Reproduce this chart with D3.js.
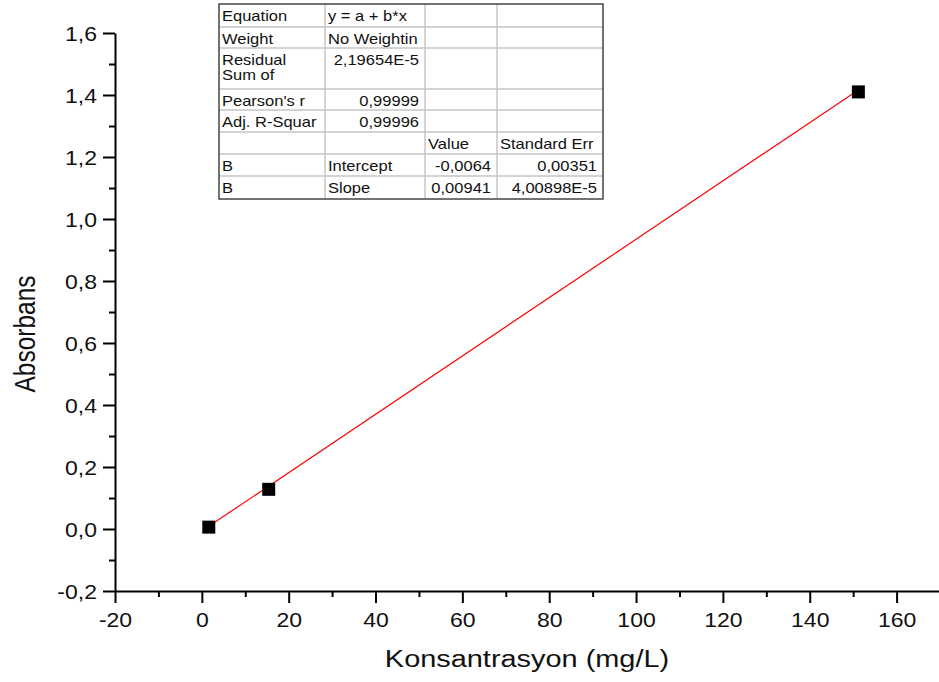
<!DOCTYPE html>
<html>
<head>
<meta charset="utf-8">
<script src="https://cdn.jsdelivr.net/npm/d3@7"></script>
<style>
  body { margin: 0; background: #fff; }
  text { font-family: "Liberation Sans", Arial, sans-serif; fill: #111; }
</style>
</head>
<body>
<div id="chart"></div>
<script>
// data
var concentration = [1.6, 15.4, 151.2];
var absorbance = [0.006, 0.128, 1.41];
var fitIntercept = -0.0064;
var fitSlope = 0.00941;

var xTicks = [-20, 0, 20, 40, 60, 80, 100, 120, 140, 160];
var yTicks = [-0.2, 0.0, 0.2, 0.4, 0.6, 0.8, 1.0, 1.2, 1.4, 1.6];

// fit table
var statNames = ["Equation", "Weight", ["Residual", "Sum of"], "Pearson's r", "Adj. R-Squar"];
var statValues = ["y = a + b*x", "No Weightin", "2,19654E-5", "0,99999", "0,99996"];
var paramHeader = ["Value", "Standard Err"];
var paramGroup = ["B", "B"];
var paramNames = ["Intercept", "Slope"];
var paramValues = ["-0,0064", "0,00941"];
var paramErrors = ["0,00351", "4,00898E-5"];

var width = 939, height = 682;
var stretch = 1.18; // text in the picture is widened

var locale = d3.formatLocale({decimal: ",", thousands: ".", grouping: [3], currency: ["", ""], minus: "-"});

var svg = d3.select("#chart")
	.append("svg")
	.attr("width", width)
	.attr("height", height);

var x = d3.scaleLinear().domain([-20, 170]).range([115, 940]);
var y = d3.scaleLinear().domain([-0.2, 1.6]).range([591, 33]);

// minor ticks
svg.append("g")
	.attr("transform", "translate(0,591)")
	.call(d3.axisBottom(x).tickValues(d3.range(-10, 170, 20)).tickSize(6).tickFormat(""))
	.call(function (g) { g.select(".domain").remove(); });
svg.append("g")
	.attr("transform", "translate(115,0)")
	.call(d3.axisLeft(y).tickValues(d3.range(-0.1, 1.6, 0.2)).tickSize(6).tickFormat(""))
	.call(function (g) { g.select(".domain").remove(); });

// X axis
var xAxis = svg.append("g")
	.attr("class", "x axis")
	.attr("transform", "translate(0,591)")
	.call(d3.axisBottom(x).tickValues(xTicks).tickSize(12).tickSizeOuter(0).tickFormat(locale.format("d")));
xAxis.selectAll("text")
	.attr("y", 0).attr("dy", 0)
	.attr("transform", "translate(0,36) scale(" + stretch + ",1)")
	.style("font-size", "19.5px");

// Y axis
var yAxis = svg.append("g")
	.attr("class", "y axis")
	.attr("transform", "translate(115,0)")
	.call(d3.axisLeft(y).tickValues(yTicks).tickSize(12).tickSizeOuter(0).tickFormat(locale.format(".1f")));
yAxis.selectAll("text")
	.attr("x", 0).attr("dy", "0.36em")
	.attr("transform", "translate(-18,0) scale(" + stretch + ",1)")
	.style("font-size", "19.5px");

svg.selectAll(".tick line").attr("stroke", "#000").attr("stroke-width", 2);
svg.selectAll(".domain").attr("stroke", "#000").attr("stroke-width", 2);
svg.selectAll(".tick text").attr("fill", "#111").attr("font-family", null);

// axis titles
svg.append("text")
	.attr("transform", "translate(527,667) scale(" + stretch + ",1)")
	.attr("text-anchor", "middle")
	.style("font-size", "24.5px")
	.text("Konsantrasyon (mg/L)");
svg.append("text")
	.attr("transform", "translate(35,334) rotate(-90) scale(1," + stretch + ")")
	.attr("text-anchor", "middle")
	.style("font-size", "24.5px")
	.text("Absorbans");

// fitted line
var xr = d3.extent(concentration);
var fitline = d3.line()
	.x(function (d) { return x(d); })
	.y(function (d) { return y(fitIntercept + fitSlope * d); });
svg.append("path")
	.attr("d", fitline(xr))
	.attr("fill", "none")
	.attr("stroke", "#ff0000")
	.attr("stroke-width", 1.2);

// points
svg.selectAll("rect.pt")
	.data(concentration)
	.enter().append("rect")
	.attr("class", "pt")
	.attr("x", function (d) { return x(d) - 6.5; })
	.attr("y", function (d, i) { return y(absorbance[i]) - 6.5; })
	.attr("width", 13)
	.attr("height", 13)
	.attr("fill", "#000");

// table
var cols = [219, 325, 425, 497, 603];
var rows = [4, 27, 48, 89, 110, 132, 154, 176, 199];
var table = svg.append("g");
var defs = svg.append("defs");

table.append("rect")
	.attr("x", cols[0]).attr("y", rows[0])
	.attr("width", cols[4] - cols[0]).attr("height", rows[8] - rows[0])
	.attr("fill", "#fff");

function cell(c, r, txt, anchor) {
	var id = "clip" + c + "_" + r;
	defs.append("clipPath").attr("id", id)
		.append("rect")
		.attr("x", cols[c]).attr("y", rows[r])
		.attr("width", cols[c + 1] - cols[c]).attr("height", rows[r + 1] - rows[r]);
	var lines = Array.isArray(txt) ? txt : [txt];
	var tx = anchor === "end" ? cols[c + 1] - 6 : cols[c] + 3;
	var g = table.append("g").attr("clip-path", "url(#" + id + ")");
	lines.forEach(function (t, k) {
		g.append("text")
			.attr("transform", "translate(" + tx + "," + (rows[r] + 17 + k * 14.5) + ") scale(" + stretch + ",1)")
			.attr("text-anchor", anchor || "start")
			.style("font-size", "14px")
			.text(t);
	});
}

statNames.forEach(function (s, i) {
	cell(0, i, s);
	cell(1, i, statValues[i], i < 2 ? "start" : "end");
});
cell(2, 5, paramHeader[0]);
cell(3, 5, paramHeader[1]);
paramNames.forEach(function (p, i) {
	cell(0, 6 + i, paramGroup[i]);
	cell(1, 6 + i, p);
	cell(2, 6 + i, paramValues[i], "end");
	cell(3, 6 + i, paramErrors[i], "end");
});

// grid lines
table.selectAll("line.h")
	.data(rows.slice(1, -1))
	.enter().append("line")
	.attr("x1", cols[0]).attr("x2", cols[4])
	.attr("y1", function (d) { return d; }).attr("y2", function (d) { return d; })
	.attr("stroke", "#c4c4c4").attr("stroke-width", 1.5);
table.selectAll("line.v")
	.data(cols.slice(1, -1))
	.enter().append("line")
	.attr("x1", function (d) { return d; }).attr("x2", function (d) { return d; })
	.attr("y1", rows[0]).attr("y2", rows[8])
	.attr("stroke", "#c4c4c4").attr("stroke-width", 1.5);
table.append("rect")
	.attr("x", cols[0]).attr("y", rows[0])
	.attr("width", cols[4] - cols[0]).attr("height", rows[8] - rows[0])
	.attr("fill", "none")
	.attr("stroke", "#444")
	.attr("stroke-width", 1.5);
</script>
</body>
</html>
